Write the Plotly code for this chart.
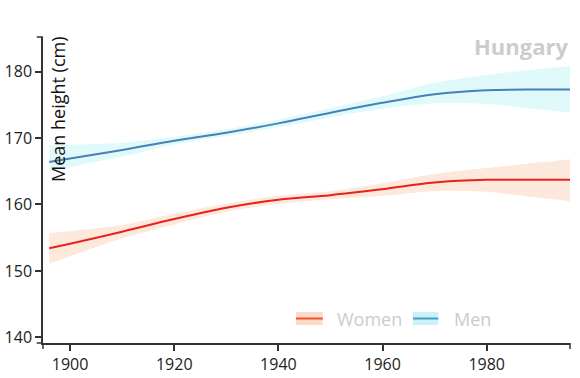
import plotly.graph_objects as go

years = [1896, 1900, 1910, 1920, 1930, 1940, 1950, 1960, 1970, 1980, 1990, 1996]

men_mean = [166.4, 166.9, 168.2, 169.6, 170.8, 172.2, 173.8, 175.3, 176.6, 177.2, 177.3, 177.3]
men_upper = [168.9, 169.0, 169.3, 170.2, 171.3, 172.8, 174.5, 176.3, 178.3, 179.5, 180.4, 180.8]
men_lower = [164.9, 165.6, 167.2, 169.0, 170.3, 171.6, 173.1, 174.4, 175.2, 175.1, 174.3, 173.8]

women_mean = [153.4, 154.1, 155.9, 157.8, 159.5, 160.7, 161.4, 162.3, 163.3, 163.7, 163.7, 163.7]
women_upper = [155.7, 156.0, 156.9, 158.6, 160.1, 161.3, 162.0, 163.2, 164.6, 165.5, 166.3, 166.8]
women_lower = [151.1, 152.2, 154.9, 157.0, 158.9, 160.1, 160.8, 161.3, 162.0, 161.9, 161.0, 160.5]

x_ticks = [1900, 1920, 1940, 1960, 1980]
y_ticks = [140, 150, 160, 170, 180]

series = [
    ("Women", women_mean, women_upper, women_lower, "#e8221b", "#fde8dc"),
    ("Men", men_mean, men_upper, men_lower, "#4682b4", "#e0fafc"),
]

fig = go.Figure()
for name, mean, up, lo, lc, fc in series:
    fig.add_trace(go.Scatter(x=years, y=up, mode="lines", line=dict(width=0, shape="spline"),
                             showlegend=False, hoverinfo="skip"))
    fig.add_trace(go.Scatter(x=years, y=lo, mode="lines", line=dict(width=0, shape="spline"),
                             fill="tonexty", fillcolor=fc, showlegend=False, hoverinfo="skip"))
    fig.add_trace(go.Scatter(x=years, y=mean, mode="lines", name=name,
                             line=dict(color=lc, width=2, shape="spline"), showlegend=False))

axis_common = dict(showgrid=False, zeroline=False, showline=True, linecolor="#333",
                   linewidth=1.5, ticks="outside", ticklen=6, tickwidth=1.5, tickcolor="#333",
                   automargin=False,
                   tickfont=dict(size=16, color="#222", family="Open Sans"))

fig.update_xaxes(range=[1894.8, 1996], tickvals=x_ticks, **axis_common)
fig.update_yaxes(range=[139.15, 185.2], tickvals=y_ticks, **axis_common)

# outer ticks at axis ends (d3 style)
for xv in [0, 1]:
    fig.add_shape(type="line", xref="x domain", yref="paper", x0=xv, x1=xv, y0=0, y1=-0.02,
                  line=dict(color="#333", width=1.5))
for yv in [0, 1]:
    fig.add_shape(type="line", xref="paper", yref="y domain", x0=0, x1=-0.012, y0=yv, y1=yv,
                  line=dict(color="#333", width=1.5))

# manual legend (band + line symbol)
legend_items = [
    ("Women", 0.480, 0.531, 0.554, "#fcdac6", "#f0502e"),
    ("Men", 0.702, 0.750, 0.776, "#c9f3f8", "#4a9cc4"),
]
for label, sx0, sx1, tx, band_c, line_c in legend_items:
    fig.add_shape(type="rect", xref="paper", yref="paper", x0=sx0, x1=sx1, y0=0.059, y1=0.101,
                  fillcolor=band_c, line=dict(width=0), layer="above")
    fig.add_shape(type="line", xref="paper", yref="paper", x0=sx0, x1=sx1, y0=0.080, y1=0.080,
                  line=dict(color=line_c, width=2), layer="above")
    fig.add_annotation(text=label, xref="paper", yref="paper", x=tx, y=0.080,
                       xanchor="left", yanchor="middle", showarrow=False,
                       font=dict(size=18, color="#cccccc", family="Open Sans"))

fig.add_annotation(text="Mean height (cm)", textangle=-90, xref="paper", yref="paper",
                   x=0, y=1, xanchor="left", yanchor="top", xshift=1, yshift=3, showarrow=False,
                   font=dict(size=18, color="#111", family="Open Sans"))
fig.add_annotation(text="<b>Hungary</b>", xref="paper", yref="paper", x=1, y=1,
                   xanchor="right", yanchor="middle", yshift=-9, showarrow=False,
                   font=dict(size=22, color="#cccccc", family="Open Sans"))

fig.update_layout(
    width=580, height=378,
    margin=dict(l=43, r=10, t=37, b=35),
    plot_bgcolor="white", paper_bgcolor="white",
    showlegend=False,
)

fig.write_html("out.html", post_script="document.body.style.margin='0';",
               config={"displayModeBar": False})
